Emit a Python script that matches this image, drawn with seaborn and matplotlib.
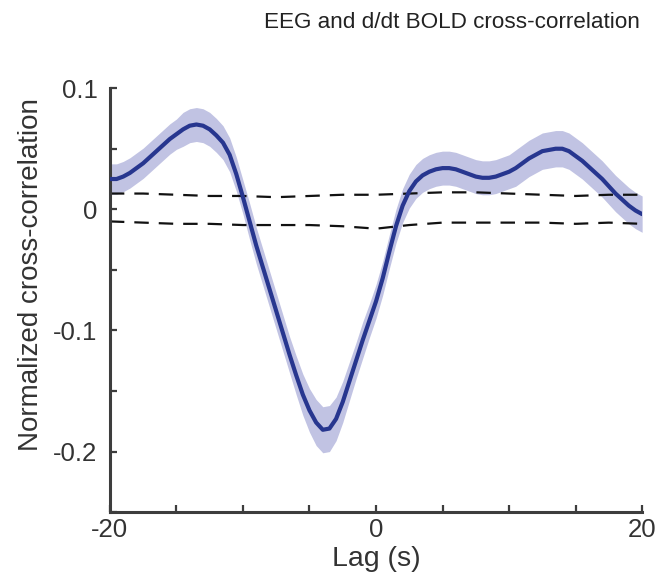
import numpy as np
import pandas as pd
import seaborn as sns
import matplotlib.pyplot as plt

# lag axis (s), every half second from -20 to 20
lags = [i / 2 for i in range(-40, 41)]
# mean normalized cross-correlation
xcorr = [0.025, 0.025, 0.027, 0.030, 0.034, 0.038, 0.043, 0.048, 0.053, 0.058,
         0.062, 0.066, 0.069, 0.070, 0.069, 0.066, 0.061, 0.055, 0.045, 0.029,
         0.010, -0.010, -0.030, -0.048, -0.066, -0.084, -0.102, -0.120, -0.137, -0.153,
         -0.166, -0.176, -0.182, -0.181, -0.173, -0.159, -0.142, -0.125, -0.108, -0.092,
         -0.076, -0.057, -0.035, -0.014, 0.003, 0.015, 0.023, 0.028, 0.031, 0.033,
         0.034, 0.034, 0.033, 0.031, 0.029, 0.027, 0.026, 0.026, 0.027, 0.029,
         0.031, 0.034, 0.038, 0.042, 0.045, 0.048, 0.049, 0.050, 0.050, 0.048,
         0.044, 0.040, 0.035, 0.030, 0.025, 0.019, 0.013, 0.008, 0.003, -0.001,
         -0.004]
# half width of the shaded error band
band = ([0.0125] * 11 + [0.014] * 10 + [0.015] * 7
        + [0.016, 0.017, 0.018, 0.019, 0.019, 0.019, 0.018, 0.017]
        + [0.016, 0.015, 0.015, 0.014, 0.014, 0.014, 0.014, 0.014, 0.014]
        + [0.014] * 16 + [0.015] * 20)
# null (significance) bounds, dashed
null_lags = [-20, -17.5, -15, -12.5, -10, -7.5, -5, -2.5, 0, 2.5, 5, 7.5, 10, 12.5, 15, 17.5, 20]
null_hi = [0.013, 0.013, 0.012, 0.011, 0.011, 0.010, 0.011, 0.012, 0.012, 0.013,
           0.014, 0.014, 0.013, 0.012, 0.011, 0.012, 0.012]
null_lo = [-0.010, -0.011, -0.012, -0.012, -0.013, -0.013, -0.013, -0.014, -0.016, -0.013,
           -0.011, -0.011, -0.011, -0.011, -0.012, -0.011, -0.012]

sns.set_style("white")
plt.rcParams['font.family'] = ['Liberation Sans', 'DejaVu Sans']

df = pd.DataFrame({"lag": lags, "r": xcorr, "err": band})
nulls = pd.DataFrame({"lag": null_lags, "hi": null_hi, "lo": null_lo})

fig = plt.figure(figsize=(6.62, 5.8), dpi=100)
ax = fig.add_axes([0.166, 0.117, 0.804, 0.731])

ax.fill_between(df["lag"], df["r"] - df["err"], df["r"] + df["err"],
                color="#c1c3e3", lw=0, zorder=1)
for col in ["hi", "lo"]:
    sns.lineplot(data=nulls, x="lag", y=col, ax=ax, color="#111111", lw=1.6, zorder=2)
    ax.lines[-1].set_dashes([6.5, 4.5])
sns.lineplot(data=df, x="lag", y="r", ax=ax, color="#27368f", lw=3.0, zorder=3)

ax.set_xlim(-20, 20)
ax.set_ylim(-0.25, 0.1)
sns.despine(ax=ax)
for s in ["left", "bottom"]:
    ax.spines[s].set_color("#3d3d3d")
    ax.spines[s].set_linewidth(2.2)

ax.set_xticks(np.arange(-20, 21, 5))
ax.set_xticklabels(["-20", "", "", "", "0", "", "", "", "20"])
ax.set_yticks(np.arange(-0.25, 0.101, 0.05))
ax.set_yticklabels(["", "-0.2", "", "-0.1", "", "0", "", "0.1"])
ax.tick_params(bottom=True, left=True, direction="in", length=5, width=1.6,
               color="#3d3d3d", labelsize=18.5, labelcolor="#333333")
ax.tick_params(axis="y", pad=9)
ax.tick_params(axis="x", pad=4)

ax.set_xlabel("Lag (s)", fontsize=20.5, color="#333333", labelpad=3)
ax.set_ylabel("Normalized cross-correlation", fontsize=20, color="#333333")
ax.yaxis.set_label_coords(-0.124, 0.56)
fig.text(0.683, 0.962, "EEG and d/dt BOLD cross-correlation", ha="center", va="center",
         fontsize=16.2, color="#222222")

fig.savefig("out.png", dpi=100)
